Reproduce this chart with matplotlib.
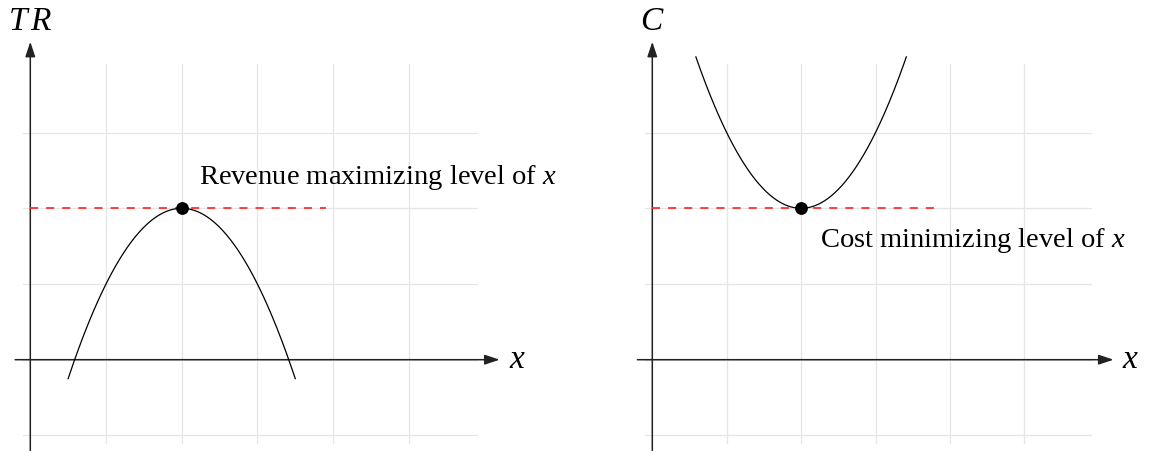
import numpy as np
import matplotlib
matplotlib.use("Agg")
import matplotlib.pyplot as plt

plt.rcParams["font.family"] = ["Liberation Serif", "DejaVu Serif"]
plt.rcParams["mathtext.fontset"] = "custom"
plt.rcParams["mathtext.it"] = "Liberation Serif:italic"
plt.rcParams["mathtext.rm"] = "Liberation Serif"
plt.rcParams["lines.scale_dashes"] = False

W, H, DPI = 1151, 451, 100

# vertex of each curve and its curvature: TR = 2 - (x-2)^2, C = 2 + (x-2)^2
vertex_x = 2.0
vertex_y = 2.0
curvature = 1.0
tr_domain = [0.5, 3.5]
c_domain = [2 - np.sqrt(2), 2 + np.sqrt(2)]
dash_end = 3.9

ylabels = [r"T\,R", "C"]
notes = ["Revenue maximizing level of $x$", "Cost minimizing level of $x$"]

fig = plt.figure(figsize=(W / DPI, H / DPI), dpi=DPI)

XLIM = (-0.4, 6.7)
YLIM = (-1.35, 4.75)


def make_axes(ox, oy, sx, sy):
    # ox, oy: pixel location of the origin (from top-left), sx, sy: pixels per unit
    left = (ox + sx * XLIM[0]) / W
    width = sx * (XLIM[1] - XLIM[0]) / W
    bottom = (H - (oy - sy * YLIM[0])) / H
    height = sy * (YLIM[1] - YLIM[0]) / H
    ax = fig.add_axes([left, bottom, width, height])
    ax.set_xlim(*XLIM)
    ax.set_ylim(*YLIM)
    ax.axis("off")
    return ax


def draw_panel(ax, sign, domain, ylabel, note, note_pos):
    grid_kw = dict(color="#e6e6e6", lw=0.9, zorder=0)
    for gx in range(1, 6):
        ax.plot([gx, gx], [-1.1, 3.9], **grid_kw)
    for gy in range(-1, 4):
        ax.plot([-0.1, 5.9], [gy, gy], **grid_kw)

    arrow = dict(arrowstyle="-|>,head_length=0.9,head_width=0.3", color="#222222",
                 lw=1.1, shrinkA=0, shrinkB=0)
    ax.annotate("", xy=(6.2, 0), xytext=(-0.2, 0), arrowprops=arrow, zorder=2)
    ax.annotate("", xy=(0, 4.2), xytext=(0, -1.2), arrowprops=arrow, zorder=2)

    xs = np.linspace(domain[0], domain[1], 300)
    ys = vertex_y + sign * curvature * (xs - vertex_x) ** 2
    ax.plot(xs, ys, color="black", lw=0.9, zorder=3)

    ax.plot([0, dash_end], [vertex_y, vertex_y], color="#ff2020", lw=1.2,
            dashes=(5.8, 5.8), zorder=2)
    ax.plot([vertex_x], [vertex_y], "o", color="black", ms=8.2, zorder=4)

    ax.text(0, 4.36, "$" + ylabel + "$", fontsize=24, ha="center",
            va="baseline", clip_on=False)
    ax.text(6.43, 0, "$x$", fontsize=24, ha="center", va="center", clip_on=False)
    ax.text(note_pos[0], note_pos[1], note, fontsize=20.5, ha="left", va="baseline")


ax1 = make_axes(30.3, 359.7, 75.7, 75.7)
draw_panel(ax1, -1, tr_domain, ylabels[0], notes[0], (2.23, 2.32))

ax2 = make_axes(652.3, 359.7, 74.4, 75.7)
draw_panel(ax2, 1, c_domain, ylabels[1], notes[1], (2.25, 1.49))

fig.savefig("out.png", dpi=DPI)
